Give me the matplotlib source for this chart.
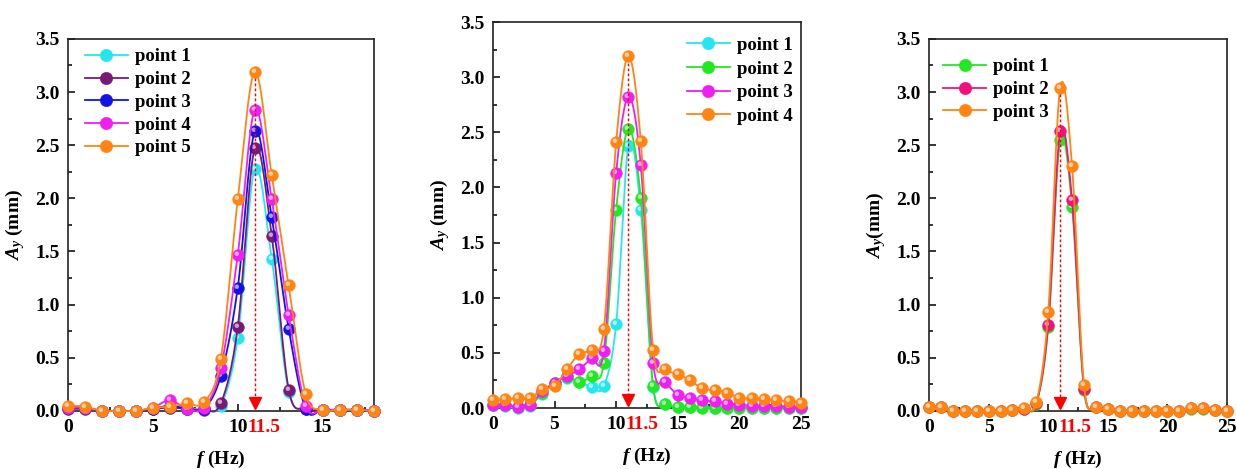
import numpy as np
import matplotlib
matplotlib.use('Agg')
import matplotlib.pyplot as plt
from matplotlib.ticker import MultipleLocator, FormatStrFormatter
from matplotlib.transforms import blended_transform_factory, Affine2D
from matplotlib.markers import MarkerStyle
from matplotlib.lines import Line2D
import matplotlib.colors as mcolors

plt.rcParams['font.family'] = ['Liberation Serif', 'DejaVu Serif']
plt.rcParams['font.weight'] = 'bold'
plt.rcParams['mathtext.fontset'] = 'custom'
plt.rcParams['mathtext.rm'] = 'Liberation Serif:bold'
plt.rcParams['mathtext.it'] = 'Liberation Serif:italic:bold'
plt.rcParams['mathtext.bf'] = 'Liberation Serif:bold'

# ---------------- data ----------------
freq_a = list(range(0, 19))
a_point1 = [0.02, 0.02, 0.0, 0.0, 0.0, 0.02, 0.03, 0.02, 0.02, 0.05, 0.69, 2.28, 1.43, 0.18, 0.02, 0.01, 0.01, 0.01, 0.0]
a_point2 = [0.02, 0.02, 0.0, 0.0, 0.0, 0.02, 0.03, 0.02, 0.01, 0.07, 0.79, 2.47, 1.65, 0.20, 0.02, 0.01, 0.01, 0.01, 0.0]
a_point3 = [0.03, 0.03, 0.0, 0.0, 0.0, 0.02, 0.05, 0.02, 0.02, 0.33, 1.16, 2.63, 1.82, 0.77, 0.02, 0.01, 0.01, 0.01, 0.0]
a_point4 = [0.03, 0.03, 0.0, 0.0, 0.0, 0.03, 0.10, 0.02, 0.03, 0.40, 1.47, 2.83, 1.99, 0.90, 0.05, 0.01, 0.01, 0.01, 0.0]
a_point5 = [0.05, 0.04, 0.0, 0.0, 0.0, 0.03, 0.04, 0.07, 0.08, 0.49, 1.99, 3.19, 2.22, 1.18, 0.16, 0.01, 0.01, 0.01, 0.0]

freq_b = list(range(0, 26))
b_point1 = [0.03, 0.02, 0.0, 0.02, 0.13, 0.23, 0.27, 0.24, 0.19, 0.20, 0.76, 2.38, 1.80, 0.19, 0.04, 0.01, 0.01, 0.01,
            0.0, 0.0, 0.0, 0.0, 0.0, 0.0, 0.0, 0.0]
b_point2 = [0.03, 0.03, 0.01, 0.03, 0.14, 0.23, 0.28, 0.24, 0.29, 0.41, 1.80, 2.53, 1.90, 0.20, 0.04, 0.01, 0.01, 0.0,
            0.0, 0.0, 0.0, 0.0, 0.0, 0.0, 0.0, 0.0]
b_point3 = [0.03, 0.03, 0.01, 0.03, 0.15, 0.23, 0.29, 0.35, 0.45, 0.52, 2.13, 2.82, 2.20, 0.41, 0.24, 0.12, 0.09, 0.07,
            0.06, 0.04, 0.03, 0.02, 0.02, 0.02, 0.01, 0.01]
b_point4 = [0.07, 0.08, 0.09, 0.09, 0.17, 0.20, 0.35, 0.49, 0.53, 0.72, 2.41, 3.19, 2.42, 0.53, 0.35, 0.31, 0.25, 0.18,
            0.16, 0.14, 0.09, 0.09, 0.08, 0.07, 0.06, 0.05]

freq_c = list(range(0, 26))
c_point1 = [0.04, 0.04, 0.0, 0.0, 0.0, 0.0, 0.0, 0.01, 0.02, 0.06, 0.79, 2.55, 1.92, 0.20, 0.04, 0.02, 0.0, 0.0,
            0.0, 0.0, 0.0, 0.0, 0.02, 0.02, 0.01, 0.0]
c_point2 = [0.04, 0.04, 0.0, 0.0, 0.0, 0.0, 0.0, 0.01, 0.02, 0.07, 0.81, 2.63, 1.98, 0.21, 0.04, 0.02, 0.0, 0.0,
            0.0, 0.0, 0.0, 0.0, 0.03, 0.03, 0.01, 0.0]
c_point3 = [0.04, 0.04, 0.0, 0.0, 0.0, 0.0, 0.0, 0.01, 0.03, 0.08, 0.93, 3.04, 2.30, 0.24, 0.04, 0.02, 0.0, 0.0,
            0.0, 0.0, 0.0, 0.0, 0.03, 0.03, 0.01, 0.0]

labels_a = ['point 1', 'point 2', 'point 3', 'point 4', 'point 5']
labels_b = ['point 1', 'point 2', 'point 3', 'point 4']
labels_c = ['point 1', 'point 2', 'point 3']

peak_freq = 11
peak_label = '11.5'

CYAN, PURPLE, BLUE, MAGENTA, ORANGE = '#25e6ef', '#7a1878', '#1212e6', '#f01ef0', '#ff8412'
GREEN, PINK = '#22e822', '#f0127c'


def catmull_rom(x, y, n=24):
    pts = np.column_stack([x, y]).astype(float)
    out = []
    for i in range(len(pts) - 1):
        p0 = pts[i - 1] if i > 0 else pts[i]
        p1 = pts[i]
        p2 = pts[i + 1]
        p3 = pts[i + 2] if i + 2 < len(pts) else pts[i + 1]
        t = np.linspace(0, 1, n, endpoint=False)[:, None]
        seg = 0.5 * (2 * p1 + (-p0 + p2) * t + (2 * p0 - 5 * p1 + 4 * p2 - p3) * t ** 2
                     + (-p0 + 3 * p1 - 3 * p2 + p3) * t ** 3)
        out.append(seg)
    out.append(pts[-1:])
    out = np.vstack(out)
    return out[:, 0], out[:, 1]


hl_marker = MarkerStyle('o', transform=Affine2D().scale(0.38).translate(-0.14, 0.15))
MS = 8.5


def light(c, f=0.6):
    r, g, b = mcolors.to_rgb(c)
    return (r + (1 - r) * f, g + (1 - g) * f, b + (1 - b) * f)


def draw_series(ax, x, y, color, z):
    sx, sy = catmull_rom(x, y)
    ax.plot(sx, sy, color=color, lw=1.3, zorder=z, clip_on=False)
    ax.plot(x, y, ls='none', marker='o', ms=MS, mfc=color, mec=color, mew=0.3, zorder=z + 0.1, clip_on=False)
    ax.plot(x, y, ls='none', marker=hl_marker, ms=MS, mfc=light(color), mec='none', zorder=z + 0.2, clip_on=False)
    h1 = Line2D([], [], color=color, lw=1.3, marker='o', ms=MS + 0.5, mfc=color, mec=color, mew=0.3)
    return h1


def style_axes(ax, xmax, xlabel_text, ylabel_text):
    ax.set_xlim(0, xmax)
    ax.set_ylim(0, 3.5)
    ax.xaxis.set_major_locator(MultipleLocator(5))
    ax.xaxis.set_minor_locator(MultipleLocator(2.5))
    ax.yaxis.set_major_locator(MultipleLocator(0.5))
    ax.yaxis.set_minor_locator(MultipleLocator(0.25))
    ax.yaxis.set_major_formatter(FormatStrFormatter('%.1f'))
    ax.tick_params(which='both', direction='in', top=False, right=False, labelsize=14, width=1.1)
    ax.tick_params(which='major', length=5, pad=6)
    ax.tick_params(which='minor', length=3)
    for lab in ax.get_xticklabels() + ax.get_yticklabels():
        lab.set_fontweight('bold')
    for s in ax.spines.values():
        s.set_linewidth(1.2)
        s.set_color('#222222')
    ax.set_xlabel(xlabel_text, fontsize=14, fontweight='bold', labelpad=9)
    ax.set_ylabel(ylabel_text, fontsize=14, fontweight='bold', labelpad=6)


def mark_peak(ax, peak_val):
    ax.plot([peak_freq, peak_freq], [peak_val - 0.06, 0.12], color='red', lw=1.0, ls=(0, (2, 1.6)), zorder=20)
    ax.plot(peak_freq, 0.07, marker='v', color='red', ms=8, zorder=21, clip_on=False)
    trans = blended_transform_factory(ax.transData, ax.transAxes)
    ax.annotate(peak_label, xy=(10, 0), xycoords=trans, xytext=(7, -6), textcoords='offset points',
                ha='left', va='top', color='red', fontsize=14, fontweight='bold')


fig = plt.figure(figsize=(12.37, 4.69), dpi=100)
ax1 = fig.add_axes([0.055, 0.124, 0.247, 0.793])
ax2 = fig.add_axes([0.3985, 0.130, 0.249, 0.823])
ax3 = fig.add_axes([0.751, 0.124, 0.241, 0.793])

ylab = '$A_y$ (mm)'
xlab = '$f$ (Hz)'

# Panel 1
hs = []
for i, (yv, c) in enumerate(zip([a_point1, a_point2, a_point3, a_point4, a_point5],
                                [CYAN, PURPLE, BLUE, MAGENTA, ORANGE])):
    hs.append(draw_series(ax1, freq_a, yv, c, 3 + i))
style_axes(ax1, 18, xlab, ylab)
mark_peak(ax1, max(a_point5))
ax1.legend(hs, labels_a, loc='upper left',
           bbox_to_anchor=(0.055, 0.975), frameon=False, borderpad=0, borderaxespad=0,
           handlelength=2.3, handletextpad=0.35, labelspacing=0.3,
           prop={'size': 13.5, 'weight': 'bold'})

# Panel 2
hs = []
for i, (yv, c) in enumerate(zip([b_point1, b_point2, b_point3, b_point4], [CYAN, GREEN, MAGENTA, ORANGE])):
    hs.append(draw_series(ax2, freq_b, yv, c, 3 + i))
style_axes(ax2, 25, xlab, ylab)
mark_peak(ax2, max(b_point4))
ax2.legend(hs, labels_b, loc='upper right',
           bbox_to_anchor=(0.972, 0.962), frameon=False, borderpad=0, borderaxespad=0,
           handlelength=2.3, handletextpad=0.35, labelspacing=0.35,
           prop={'size': 13.5, 'weight': 'bold'})

# Panel 3
hs = []
for i, (yv, c) in enumerate(zip([c_point1, c_point2, c_point3], [GREEN, PINK, ORANGE])):
    hs.append(draw_series(ax3, freq_c, yv, c, 3 + i))
style_axes(ax3, 25, xlab, '$A_y$(mm)')
mark_peak(ax3, max(c_point3))
ax3.legend(hs, labels_c, loc='upper left',
           bbox_to_anchor=(0.047, 0.948), frameon=False, borderpad=0, borderaxespad=0,
           handlelength=2.3, handletextpad=0.35, labelspacing=0.3,
           prop={'size': 13.5, 'weight': 'bold'})

fig.savefig('out.png', dpi=100)
